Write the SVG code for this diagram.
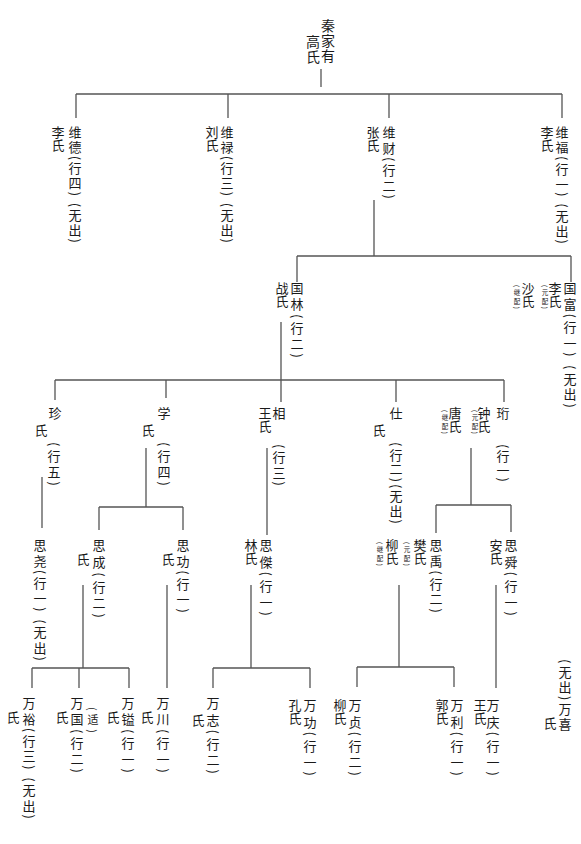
<svg xmlns="http://www.w3.org/2000/svg" width="581" height="844" viewBox="0 0 581 844">
<style>
.t{font-family:"Noto Sans CJK SC","Noto Sans CJK JP",sans-serif;font-size:13px;writing-mode:vertical-rl;fill:#1a1a1a}
.b{font-size:14px;letter-spacing:1px}
.s{font-size:6.5px}
.m{font-size:11px}
.c path{stroke:#555;stroke-width:1.3;fill:none}
</style>
<rect width="581" height="844" fill="#fff"/>
<g class="c" id="connectors">
<path d="M321 69V87"/>
<path d="M76 94H562M76 94V118M228 94V118M389 94V118M562 94V118"/>
<path d="M374 200V256M297 256H571M297 256V282M571 256V282"/>
<path d="M281 322V380M55 380H504M55 380V400M166 380V398M281 380V402M396 380V402M504 380V402"/>
<path d="M42 477V528"/>
<path d="M146 448V507M99 507H183M99 507V530M183 507V530"/>
<path d="M267 448V535"/>
<path d="M471 448V505M436 505H511M436 505V533M511 505V532"/>
<path d="M83 585V668M32 668H129M32 668V688M79 668V688M129 668V688"/>
<path d="M167 585V688"/>
<path d="M251 585V668M213 668H310M213 668V688M310 668V688"/>
<path d="M399 585V667M357 667H454M357 667V687M454 667V687"/>
<path d="M496 585V688"/>
</g>
<g id="n-qin"><text class="t b" x="328" y="19">秦家有</text><text class="t b" x="313" y="35">高氏</text></g>
<g id="n-weide"><text class="t" x="75" y="126" textLength="117">维德(行四) (无出)</text><text class="t" x="58" y="126">李氏</text></g>
<g id="n-weilu"><text class="t" x="227" y="126" textLength="117">维禄(行三) (无出)</text><text class="t" x="212" y="126">刘氏</text></g>
<g id="n-weicai"><text class="t" x="389" y="126" textLength="73">维财(行二)</text><text class="t" x="373" y="126">张氏</text></g>
<g id="n-weifu"><text class="t" x="562" y="126" textLength="118">维福(行一) (无出)</text><text class="t" x="547" y="126">李氏</text></g>
<g id="n-guolin"><text class="t" x="297" y="282" textLength="76">国林(行二)</text><text class="t" x="282" y="282">战氏</text></g>
<g id="n-guofu"><text class="t" x="570" y="282" textLength="126">国富(行一) (无出)</text><text class="t" x="555" y="282">李氏</text><text class="t s" x="545" y="285" textLength="24">(元配)</text><text class="t" x="528" y="282">沙氏</text><text class="t s" x="517" y="285" textLength="24">(继配)</text></g>
<g id="n-zhen"><text class="t" x="55" y="407">珍</text><text class="t" x="41" y="424">氏</text><text class="t" x="54" y="442" textLength="44">(行五)</text></g>
<g id="n-xue"><text class="t" x="164" y="407">学</text><text class="t" x="148" y="424">氏</text><text class="t" x="164" y="442" textLength="44">(行四)</text></g>
<g id="n-xiang"><text class="t" x="279" y="407">相</text><text class="t" x="265" y="407">王氏</text><text class="t" x="279" y="444" textLength="42">(行三)</text></g>
<g id="n-shi"><text class="t" x="396" y="407">仕</text><text class="t" x="379" y="424">氏</text><text class="t" x="396" y="442" textLength="82">(行二)(无出)</text></g>
<g id="n-heng"><text class="t" x="503" y="407">珩</text><text class="t" x="503" y="444" textLength="38">(行一)</text><text class="t" x="484" y="407">钟氏</text><text class="t s" x="475" y="410" textLength="24">(元配)</text><text class="t" x="455" y="407">唐氏</text><text class="t s" x="445" y="410" textLength="24">(继配)</text></g>
<g id="n-siyao"><text class="t" x="40" y="539" textLength="122">思尧(行一) (无出)</text></g>
<g id="n-sicheng"><text class="t" x="99" y="539" textLength="79">思成(行二)</text><text class="t" x="83" y="553">氏</text></g>
<g id="n-sigong"><text class="t" x="183" y="539" textLength="74">思功(行一)</text><text class="t" x="168" y="553">氏</text></g>
<g id="n-sijie"><text class="t" x="266" y="539" textLength="77">思傑(行一)</text><text class="t" x="251" y="539">林氏</text></g>
<g id="n-siyu"><text class="t" x="436" y="539" textLength="74">思禹(行二)</text><text class="t" x="420" y="539">樊氏</text><text class="t s" x="407" y="542" textLength="24">(元配)</text><text class="t" x="392" y="539">柳氏</text><text class="t s" x="380" y="542" textLength="24">(继配)</text></g>
<g id="n-sishun"><text class="t" x="511" y="539" textLength="77">思舜(行一)</text><text class="t" x="496" y="539">安氏</text></g>
<g id="n-wanyu"><text class="t" x="29" y="697" textLength="122">万裕(行三) (无出)</text><text class="t" x="13" y="711">氏</text></g>
<g id="n-wanguo"><text class="t" x="77" y="697" textLength="76">万国(行二)</text><text class="t" x="62" y="711">氏</text><text class="t m" x="93" y="707" textLength="26">(适)</text></g>
<g id="n-wanyi"><text class="t" x="128" y="697" textLength="76">万镒(行一)</text><text class="t" x="113" y="711">氏</text></g>
<g id="n-wanchuan"><text class="t" x="163" y="697" textLength="76">万川(行一)</text><text class="t" x="147" y="711">氏</text></g>
<g id="n-wanzhi"><text class="t" x="213" y="697" textLength="77">万志(行二)</text><text class="t" x="198" y="714">氏</text></g>
<g id="n-wangong"><text class="t" x="310" y="699" textLength="77">万功(行一)</text><text class="t" x="295" y="699">孔氏</text></g>
<g id="n-wanzhen"><text class="t" x="355" y="699" textLength="77">万贞(行二)</text><text class="t" x="340" y="699">柳氏</text></g>
<g id="n-wanli"><text class="t" x="457" y="699" textLength="77">万利(行一)</text><text class="t" x="442" y="699">郭氏</text></g>
<g id="n-wanqing"><text class="t" x="493" y="699" textLength="77">万庆(行一)</text><text class="t" x="480" y="699">王氏</text></g>
<g id="n-wanxi"><text class="t" x="565" y="659" textLength="72">(无出)万喜</text><text class="t" x="550" y="717">氏</text></g>
</svg>
